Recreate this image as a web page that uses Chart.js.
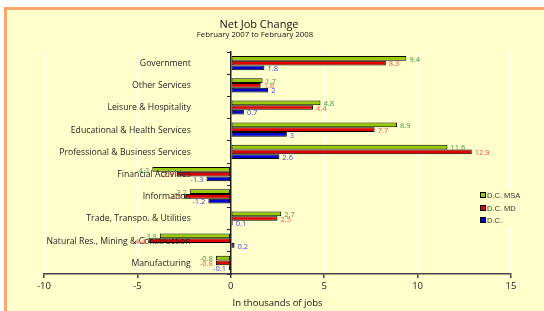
<!DOCTYPE html>
<html>
<head>
<meta charset="utf-8">
<script src="https://cdn.jsdelivr.net/npm/chart.js@4/dist/chart.umd.min.js"></script>
<style>
  html, body { margin: 0; padding: 0; background: #ffffff; }
  #wrap { position: relative; width: 544px; height: 311px; }
</style>
</head>
<body>
<div id="wrap"><canvas id="chart-jobs" width="544" height="311"></canvas></div>
<script>
  const categories = [
    'Government',
    'Other Services',
    'Leisure & Hospitality',
    'Educational & Health Services',
    'Professional & Business Services',
    'Financial Activities',
    'Information',
    'Trade, Transpo. & Utilities',
    'Natural Res., Mining & Construction',
    'Manufacturing',
  ];
  const dcMsa = [9.4, 1.7, 4.8, 8.9, 11.6, -4.2, -2.2, 2.7, -3.8, -0.8];
  const dcMd = [8.3, 1.6, 4.4, 7.7, 12.9, -2.9, -2.5, 2.5, -4.4, -0.8];
  const dc = [1.8, 2, 0.7, 3, 2.6, -1.3, -1.2, 0.1, 0.2, -0.1];
  const seriesNames = ['D.C. MSA', 'D.C. MD', 'D.C.'];
  const xTicks = [-10, -5, 0, 5, 10, 15];

  const FONT = '"Open Sans", "Noto Sans", sans-serif';
  const barColors = ['#99cc00', '#e00000', '#0000cc'];
  const labelColors = ['#3f9a3f', '#ff4a4a', '#4040ee'];

  // frame + yellow panel behind everything
  const framePlugin = {
    id: 'frame',
    beforeDraw(chart) {
      const ctx = chart.ctx;
      ctx.save();
      ctx.fillStyle = '#ffffff';
      ctx.fillRect(0, 0, chart.width, chart.height);
      ctx.fillStyle = '#f9a76c';
      ctx.fillRect(4, 7, chart.width - 4, chart.height - 7);
      ctx.fillStyle = '#ffffcc';
      ctx.fillRect(7, 10, chart.width - 7, chart.height - 10);
      ctx.restore();
    },
  };

  const annotatePlugin = {
    id: 'annotate',
    afterDatasetsDraw(chart) {
      const ctx = chart.ctx;
      const xs = chart.scales.x;
      const ys = chart.scales.y;
      ctx.save();

      // value labels at bar ends
      ctx.font = '7.5px ' + FONT;
      ctx.textBaseline = 'middle';
      chart.data.datasets.forEach((ds, di) => {
        const meta = chart.getDatasetMeta(di);
        ctx.fillStyle = labelColors[di];
        meta.data.forEach((bar, i) => {
          const v = ds.data[i];
          if (v >= 0) {
            ctx.textAlign = 'left';
            ctx.fillText(String(v), bar.x + 3, bar.y + 1);
          } else {
            ctx.textAlign = 'right';
            ctx.fillText(String(v), bar.x - 3, bar.y + 1);
          }
        });
      });

      // category labels, left of the zero line
      ctx.font = '8.7px ' + FONT;
      ctx.fillStyle = '#1e1e1e';
      ctx.textAlign = 'right';
      const zx = xs.getPixelForValue(0);
      chart.data.labels.forEach((lab, i) => {
        ctx.fillText(lab, zx - 40, ys.getPixelForValue(i) + 0.5);
      });

      // legend floating inside the plot
      const lx = 480;
      const ly = [195, 208, 220];
      ctx.fillStyle = '#ffffcc';
      ctx.fillRect(474, 189, 52, 38);
      ctx.font = '7.5px "Liberation Sans", Arial, sans-serif';
      ctx.textAlign = 'left';
      chart.data.datasets.forEach((ds, di) => {
        ctx.fillStyle = ds.backgroundColor;
        ctx.fillRect(lx, ly[di] - 2.5, 5, 5);
        ctx.strokeStyle = '#000';
        ctx.lineWidth = 1;
        ctx.strokeRect(lx + 0.5, ly[di] - 2.5, 5, 5);
        ctx.fillStyle = '#333';
        ctx.fillText(ds.label, lx + 7, ly[di] + 0.5);
      });

      // titles
      ctx.fillStyle = '#111';
      ctx.textAlign = 'center';
      ctx.font = '11px ' + FONT;
      ctx.fillText('Net Job Change', 259, 25);
      ctx.font = '7.8px ' + FONT;
      ctx.fillText('February 2007 to February 2008', 255, 35);
      ctx.restore();
    },
  };

  new Chart(document.getElementById('chart-jobs'), {
    type: 'bar',
    data: {
      labels: categories,
      datasets: [dcMsa, dcMd, dc].map((vals, i) => ({
        label: seriesNames[i],
        data: vals,
        backgroundColor: barColors[i],
        borderColor: '#000000',
        borderWidth: 1,
        borderSkipped: false,
        barPercentage: 1,
        categoryPercentage: 0.64,
      })),
    },
    options: {
      indexAxis: 'y',
      responsive: false,
      animation: false,
      devicePixelRatio: 1,
      layout: { padding: { left: 44, right: 33, top: 52, bottom: 0 } },
      plugins: {
        legend: { display: false },
        tooltip: { enabled: false },
        title: { display: false },
      },
      scales: {
        x: {
          type: 'linear',
          min: xTicks[0],
          max: xTicks[xTicks.length - 1],
          afterBuildTicks(scale) {
            scale.ticks = xTicks.map((v) => ({ value: v }));
          },
          afterFit(scale) { scale.height = 37; },
          grid: {
            color: (c) => (c.tick && c.tick.value === 0 ? 'rgba(0,0,0,0)' : '#ffffff'),
            lineWidth: 1.5,
            tickColor: '#444444',
            tickLength: 4,
          },
          border: { color: '#444444', width: 1.5 },
          ticks: { color: '#222', font: { family: FONT, size: 9.5 }, padding: 3 },
          title: {
            display: true,
            text: 'In thousands of jobs',
            color: '#111',
            font: { family: FONT, size: 9.5 },
            padding: { top: 0, bottom: 2 },
          },
        },
        y: {
          type: 'category',
          position: { x: 0 },
          afterFit(scale) { scale.width = 0; },
          grid: {
            offset: true,
            drawOnChartArea: false,
            drawTicks: true,
            tickLength: 3,
            tickColor: '#222',
          },
          border: { color: '#222', width: 1.5 },
          ticks: { display: false },
        },
      },
    },
    plugins: [framePlugin, annotatePlugin],
  });
</script>
</body>
</html>
